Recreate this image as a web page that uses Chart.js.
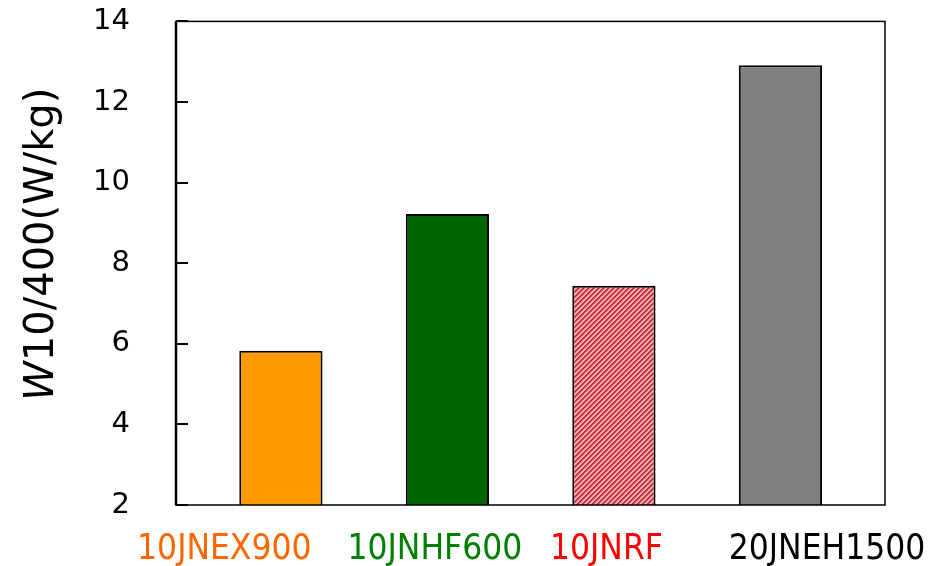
<!DOCTYPE html>
<html>
<head>
<meta charset="utf-8">
<script src="https://cdn.jsdelivr.net/npm/chart.js@4.4.1/dist/chart.umd.min.js"></script>
<style>
  html, body { margin: 0; padding: 0; background: #fff; }
</style>
</head>
<body>
<canvas id="chart" width="944" height="566"></canvas>
<script>
const categories = ["10JNEX900", "10JNHF600", "10JNRF", "20JNEH1500"];
const lossValues = [5.83, 9.22, 7.44, 12.91];
const yTicks = [2, 4, 6, 8, 10, 12, 14];
const labelColors = ["#ff6600", "#008000", "#ff0000", "#000000"];

// the category labels in the original sit a little off their bars
const labelShift = [-0.34, -0.075, -0.045, 0.28];

// diagonal stripes for the 10JNRF bar
function hatch() {
    const c = document.createElement("canvas");
    c.width = 5; c.height = 5;
    const g = c.getContext("2d");
    const img = g.createImageData(5, 5);
    const shades = [[190, 40, 55], [196, 52, 64], [226, 112, 120], [246, 176, 176], [246, 176, 176]];
    for (let y = 0; y < 5; y++) {
        for (let x = 0; x < 5; x++) {
            const s = shades[(x + y) % 5];
            const i = (y * 5 + x) * 4;
            img.data[i] = s[0];
            img.data[i + 1] = s[1];
            img.data[i + 2] = s[2];
            img.data[i + 3] = 255;
        }
    }
    g.putImageData(img, 0, 0);
    return document.getElementById("chart").getContext("2d").createPattern(c, "repeat");
}

const barColors = ["#ff9900", "#006400", hatch(), "#808080"];

// plot frame, inward ticks and the y title with an italic W
const frame = {
    id: "frame",
    afterDraw(chart) {
        const { ctx, chartArea: a } = chart;
        const y = chart.scales.y;
        ctx.save();
        ctx.strokeStyle = "#000";
        ctx.lineWidth = 1.5;
        ctx.strokeRect(a.left, a.top, a.right - a.left, a.bottom - a.top);
        ctx.lineWidth = 2.5;
        ctx.beginPath();
        ctx.moveTo(a.left, a.top);
        ctx.lineTo(a.left, a.bottom);
        ctx.stroke();

        ctx.lineWidth = 2;
        ctx.beginPath();
        yTicks.forEach(v => {
            const py = Math.round(y.getPixelForValue(v));
            ctx.moveTo(a.left, py);
            ctx.lineTo(a.left + 12, py);
        });
        ctx.stroke();

        ctx.translate(43, (a.top + a.bottom) / 2 - 19);
        ctx.rotate(-Math.PI / 2);
        ctx.fillStyle = "#000";
        ctx.textBaseline = "middle";
        const italic = "italic 40px 'DejaVu Sans'";
        const normal = "40px 'DejaVu Sans'";
        ctx.font = italic;
        const w1 = ctx.measureText("W").width;
        ctx.font = normal;
        const rest = "10/400(W/kg)";
        const w2 = ctx.measureText(rest).width;
        const x = -(w1 + w2) / 2;
        ctx.font = italic;
        ctx.fillText("W", x, 0);
        ctx.font = normal;
        ctx.fillText(rest, x + w1, 0);
        ctx.restore();
    }
};

new Chart(document.getElementById("chart"), {
    type: "bar",
    data: {
        datasets: [{
            data: lossValues.map((v, i) => ({ x: i, y: v })),
            backgroundColor: barColors,
            borderColor: "#000",
            borderWidth: 2,
            categoryPercentage: 1,
            barPercentage: 0.5
        }]
    },
    options: {
        responsive: false,
        animation: false,
        layout: { padding: { left: 0, top: 21, right: 59, bottom: 0 } },
        plugins: { legend: { display: false }, tooltip: { enabled: false } },
        scales: {
            x: {
                type: "linear",
                offset: false,
                min: -0.63,
                max: 3.628,
                afterBuildTicks: s => { s.ticks = categories.map((c, i) => ({ value: i + labelShift[i] })); },
                afterFit: s => { s.height = 61; s.paddingLeft = 0; s.paddingRight = 0; },
                grid: { display: false },
                border: { display: false },
                ticks: {
                    callback: (v, i) => categories[i],
                    color: c => labelColors[c.index],
                    font: { family: "'DejaVu Sans Condensed'", size: 35 },
                    padding: 16,
                    maxRotation: 0,
                    autoSkip: false
                }
            },
            y: {
                min: 2,
                max: 14,
                afterBuildTicks: s => { s.ticks = yTicks.map(v => ({ value: v })); },
                afterFit: s => { s.width = 176; },
                grid: { drawOnChartArea: false, tickLength: 42, color: "rgba(0,0,0,0)" },
                border: { display: false },
                ticks: {
                    color: "#000",
                    font: { family: "'DejaVu Sans'", size: 29 },
                    padding: 4
                }
            }
        }
    },
    plugins: [frame]
});
</script>
</body>
</html>
